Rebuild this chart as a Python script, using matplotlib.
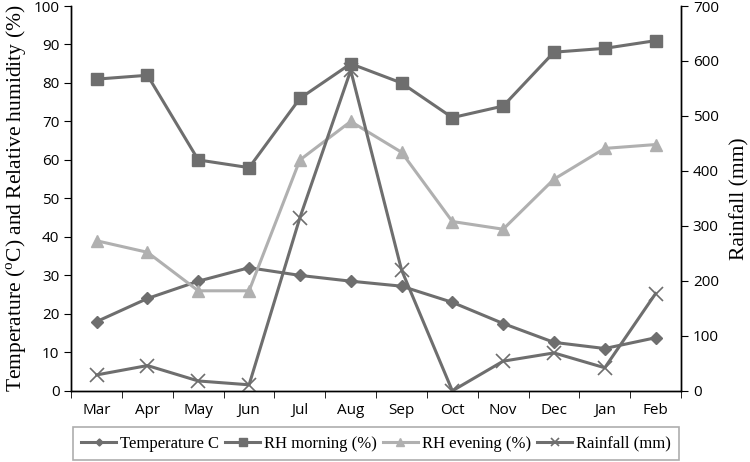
import matplotlib.pyplot as plt
import numpy as np

months = ["Mar", "Apr", "May", "Jun", "Jul", "Aug", "Sep", "Oct", "Nov", "Dec", "Jan", "Feb"]
temperature = [18, 24, 28.5, 32, 30, 28.5, 27.2, 23, 17.5, 12.6, 11, 13.8]
rh_morning = [81, 82, 60, 58, 76, 85, 80, 71, 74, 88, 89, 91]
rh_evening = [39, 36, 26, 26, 60, 70, 62, 44, 42, 55, 63, 64]
rainfall = [29, 46, 18, 11, 315, 583, 220, 0, 54, 69, 42, 177]

dark = "#6e6e6e"
light = "#b0b0b0"
serif = "Liberation Serif"
sans = "Open Sans"

plt.rcParams["mathtext.fontset"] = "custom"
plt.rcParams["mathtext.rm"] = serif

fig = plt.figure(figsize=(7.5, 4.62), dpi=100)
ax = fig.add_axes([0.095, 0.154, 0.813, 0.833])
ax2 = ax.twinx()

x = np.arange(len(months))
h1, = ax.plot(x, temperature, "-D", color=dark, lw=2.2, ms=6, label="Temperature C")
h2, = ax.plot(x, rh_morning, "-s", color=dark, lw=2.2, ms=9, label="RH morning (%)")
h3, = ax.plot(x, rh_evening, "-^", color=light, lw=2.2, ms=9, label="RH evening (%)")
h4, = ax2.plot(x, rainfall, "-x", color=dark, lw=2.2, ms=10, mew=1.2, label="Rainfall (mm)")

ax.set_xlim(-0.5, 11.5)
ax.set_ylim(0, 100)
ax2.set_ylim(0, 700)
ax.set_yticks(np.arange(0, 101, 10))
ax2.set_yticks(np.arange(0, 701, 100))
ax.set_xticks(x)
ax.set_xticklabels(months)
ax.set_xticks(np.arange(-0.5, 12, 1), minor=True)
ax.tick_params(axis="x", which="major", length=0, pad=9)
ax.tick_params(axis="x", which="minor", length=5, direction="out", color="black")

for a in (ax, ax2):
    a.spines["top"].set_visible(False)
    for s in a.spines.values():
        s.set_linewidth(1.0)
    a.tick_params(axis="y", length=5, direction="out")
    for lab in a.get_xticklabels() + a.get_yticklabels():
        lab.set_fontfamily(sans)
        lab.set_fontsize(11)

ax.set_ylabel("Temperature ($^{\\mathrm{o}}$C) and Relative humidity (%)", family=serif,
              fontsize=15.5, labelpad=3)
ax2.set_ylabel("Rainfall (mm)", family=serif, fontsize=15.5, labelpad=8)

leg = ax.legend(handles=[h1, h2, h3, h4], loc="upper center", bbox_to_anchor=(0.5, -0.095),
                ncol=4, frameon=True, fancybox=False, edgecolor="#999999",
                prop={"family": serif, "size": 12}, handlelength=2.1, markerscale=0.6,
                handletextpad=0.25, columnspacing=0.35, borderpad=0.5, borderaxespad=0)
leg.get_frame().set_linewidth(1.2)

fig.savefig("out.png", dpi=100)
